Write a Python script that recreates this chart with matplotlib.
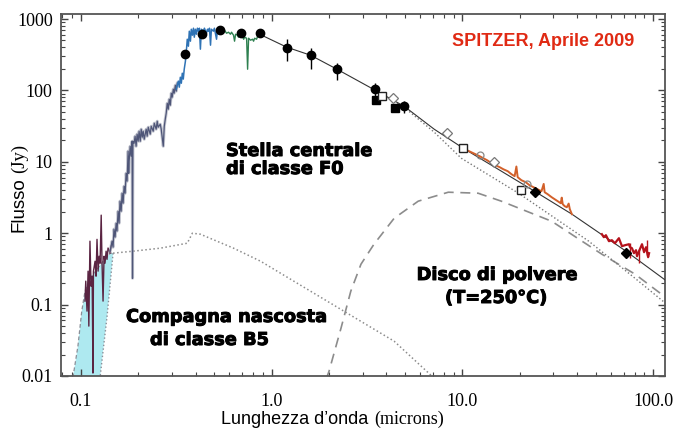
import numpy as np
import matplotlib.pyplot as plt
import matplotlib.patheffects as pe
from matplotlib.ticker import LogLocator, NullFormatter

W, H = 675, 430

# model curves (micron, Jy)
total_x = [0.865, 1.2, 1.6, 2.2, 3.48, 4.95, 7.12, 10.1, 16.0, 23.9, 37.5, 72.1, 118]
total_y = [612, 403, 311, 198, 101, 60, 28.6, 15.5, 7.4, 3.87, 1.85, 0.56, 0.213]

star_x = [3.48, 4.95, 7.12, 9.88, 19.7, 46.0, 80.4, 118]
star_y = [101, 58, 26, 11.2, 3.63, 0.773, 0.234, 0.101]

disk_x = [1.93, 2.0, 2.31, 2.6, 2.94, 3.44, 4.39, 5.87, 8.44, 12.1, 16.0, 29.4, 53.9, 80.4, 118]
disk_y = [0.009, 0.0117, 0.0467, 0.154, 0.368, 0.701, 1.62, 2.81, 3.75, 3.63, 2.81, 1.47, 0.508, 0.267, 0.123]

comp_x = [0.1474, 0.1879, 0.2606, 0.361, 0.384, 0.423, 0.631, 0.875, 1.306, 2.39, 4.39, 7.12]
comp_y = [0.525, 0.56, 0.617, 0.724, 1.0, 0.968, 0.617, 0.405, 0.213, 0.081, 0.0307, 0.0093]

cyan_left_x = [0.0908, 0.0964, 0.101, 0.105, 0.1115, 0.1214, 0.1306, 0.1422, 0.1474]
cyan_left_y = [0.0096, 0.0261, 0.081, 0.154, 0.234, 0.313, 0.405, 0.525, 0.525]
cyan_right_x = [0.1474, 0.1371, 0.126]
cyan_right_y = [0.525, 0.0688, 0.0096]

# spectra
uv1_x = [0.105, 0.106, 0.1076, 0.109, 0.110, 0.1115, 0.113, 0.1145, 0.1156, 0.1163, 0.1186, 0.120,
         0.1214, 0.123, 0.1245, 0.126, 0.1277, 0.129, 0.1306, 0.1322, 0.1337, 0.1355, 0.137, 0.1387,
         0.1422, 0.144, 0.1474]
uv1_y = [0.112, 0.213, 0.081, 0.294, 0.05, 0.773, 0.181, 0.25, 0.011, 0.294, 0.405, 0.25,
         0.82, 0.294, 0.476, 0.38, 1.79, 0.38, 0.112, 0.476, 0.38, 0.56, 0.43, 0.62,
         0.525, 0.66, 0.77]

uv2_x = [0.1422, 0.1456, 0.1474, 0.149, 0.151, 0.153, 0.1546, 0.1566, 0.1585, 0.1603, 0.1625, 0.1644,
         0.1664, 0.1684, 0.1705, 0.1725, 0.1746, 0.1767, 0.178, 0.179, 0.1812, 0.1832, 0.1855, 0.1864,
         0.1873, 0.19, 0.1923, 0.1946, 0.197, 0.1995, 0.2018, 0.2046, 0.207, 0.2096, 0.212, 0.2147,
         0.2198, 0.2225, 0.2254, 0.2309, 0.2336, 0.2393, 0.2424, 0.248, 0.2512, 0.254, 0.2606, 0.2636,
         0.2702, 0.2735, 0.2768, 0.280, 0.2835, 0.287, 0.2904, 0.2941, 0.2976, 0.301, 0.3051, 0.3083,
         0.3126, 0.316, 0.32]
uv2_y = [0.56, 0.773, 0.637, 1.14, 0.88, 1.38, 1.07, 2.03, 1.38, 2.81, 2.03, 3.63,
         2.63, 4.55, 3.63, 6.9, 5.35, 14.1, 6.9, 10.2, 16.5, 12.0, 19.4, 0.234,
         19.4, 18.2, 22.8, 16.5, 24.4, 19.4, 26.8, 19.4, 28.6, 22.1, 26.8, 20.7,
         28.6, 22.8, 30.5, 24.4, 31.5, 26.8, 34.7, 28.6, 37.0, 30.5, 33.6, 28.6,
         16.5, 31.5, 39.5, 48.0, 66.0, 54.5, 75.3, 62.0, 91.4, 80.3, 104, 91.4,
         118, 97.5, 126]

blue_x = [0.316, 0.324, 0.328, 0.332, 0.336, 0.34, 0.344, 0.348, 0.353, 0.357, 0.361, 0.366,
          0.37, 0.375, 0.379, 0.384, 0.389, 0.393, 0.398, 0.403, 0.408, 0.413, 0.418, 0.423,
          0.428, 0.439, 0.444, 0.455, 0.461, 0.466, 0.472, 0.478, 0.483, 0.495, 0.501, 0.514,
          0.52, 0.532, 0.539]
blue_y = [104, 135, 111, 153, 126, 174, 144, 198, 256, 354, 521, 416,
          675, 489, 719, 593, 743, 556, 719, 612, 743, 675, 743, 378,
          719, 675, 743, 632, 719, 675, 743, 430, 719, 675, 743, 521,
          719, 675, 697]

green_x = [0.539, 0.552, 0.566, 0.58, 0.594, 0.608, 0.616, 0.631, 0.639, 0.647, 0.662, 0.67,
           0.687, 0.704, 0.713, 0.721, 0.739, 0.748, 0.757, 0.775, 0.794, 0.804, 0.814, 0.834,
           0.844, 0.854]
green_y = [675, 653, 697, 632, 653, 612, 653, 593, 489, 612, 593, 556,
           612, 574, 521, 556, 538, 198, 538, 505, 521, 489, 538, 521,
           574, 612]

irs_x = [10.1, 10.6, 11.15, 11.7, 12.3, 12.9, 13.5, 14.2, 14.9, 15.7, 16.4, 17.3, 18.1, 18.8,
         19.2, 19.5, 20.4, 21.5, 22.5, 23.6, 24.8, 26.0, 26.7, 27.0, 28.0, 29.4, 30.5, 31.6,
         32.8, 33.2, 33.6, 34.4, 35.3, 36.1, 36.6, 37.5]
irs_y = [16.0, 14.5, 13.6, 12.8, 12.0, 11.2, 10.5, 9.55, 8.96, 8.4, 7.87, 7.38, 6.7, 6.29,
         8.6, 6.09, 5.52, 5.18, 4.7, 4.41, 4.13, 3.87, 4.9, 3.75, 3.52, 3.19, 2.99, 2.81,
         2.63, 3.15, 2.55, 2.39, 2.31, 2.6, 2.17, 1.85]

mips_x = [53.9, 55.2, 56.6, 58.7, 60.8, 63.1, 66.2, 68.7, 71.2, 74.8, 75.7, 77.5, 79.4, 81.4,
          82.4, 84.4, 87.5, 89.7, 91.9, 94.2, 95.3]
mips_y = [0.968, 0.879, 0.937, 0.773, 0.798, 0.724, 0.851, 0.658, 0.679, 0.701, 0.637, 0.617,
          0.525, 0.578, 0.476, 0.56, 0.701, 0.542, 0.637, 0.461, 0.525]
mips_err_x = [75.7, 84.4, 93.0]
mips_err_lo = [0.45, 0.38, 0.50]
mips_err_hi = [0.72, 0.60, 0.80]

# photometry
dot_x = [0.353, 0.433, 0.539, 0.687, 0.865, 1.2, 1.6, 2.2, 3.48, 4.95]
dot_y = [321, 612, 697, 632, 632, 390, 311, 198, 104, 60]
dot_lo = [321, 612, 697, 632, 632, 256, 198, 139, 70, 48]
dot_hi = [321, 612, 697, 632, 632, 521, 390, 240, 125, 70]
fsq_x = [3.53, 4.44]
fsq_y = [73, 56]
fdia_x = [23.9, 72.1]
fdia_y = [3.75, 0.525]
osq_x = [3.79, 10.1, 20.2]
osq_y = [83, 15.5, 4.0]
odia_x = [4.33, 8.34, 14.7]
odia_y = [78, 25, 9.9]
ocirc_x = [12.3, 21.7]
ocirc_y = [12.4, 4.86]

xticks = [0.1, 1, 10, 100]
xtick_labels = ['0.1', '1.0', '10.0', '100.0']
yticks = [0.01, 0.1, 1, 10, 100, 1000]
ytick_labels = ['0.01', '0.1', '1', '10', '100', '1000']

SERIF = 'Liberation Serif'
SANS = 'Liberation Sans'

fig = plt.figure(figsize=(W / 100, H / 100), dpi=100)
ax = fig.add_axes([61 / W, 1 - 376 / H, 604 / W, 362 / H])
ax.set_xscale('log')
ax.set_yscale('log')

# hidden companion region
ax.fill(cyan_left_x + cyan_right_x, cyan_left_y + cyan_right_y, color='#aee9f0', lw=0, zorder=1)
ax.plot(cyan_left_x, cyan_left_y, color='#8a8f98', lw=0.9, ls=(0, (3, 2)), zorder=2)
ax.plot(cyan_right_x, cyan_right_y, color='#8a8f98', lw=1.0, ls=':', zorder=2)

ax.plot(comp_x, comp_y, color='#8c8c8c', lw=1.1, ls=':', zorder=2)
ax.plot(disk_x, disk_y, color='#8c8c8c', lw=1.2, ls=(0, (6, 4)), zorder=2)
ax.plot(star_x, star_y, color='#777777', lw=1.0, ls=':', zorder=2)
ax.plot(total_x, total_y, color='#333333', lw=0.8, zorder=3)

ax.plot(uv1_x, uv1_y, color='#5a2442', lw=1.0, zorder=4)
ax.plot(uv2_x, uv2_y, color='#a0a4b4', lw=2.2, alpha=0.6, zorder=4)
ax.plot(uv2_x, uv2_y, color='#4f5678', lw=0.9, zorder=4)
ax.plot(blue_x, blue_y, color='#2f73b5', lw=1.1, zorder=4)
ax.plot(green_x, green_y, color='#2e8050', lw=1.0, zorder=4)
ax.plot(irs_x, irs_y, color='#d2602a', lw=1.4, zorder=4)
ax.plot(mips_x, mips_y, color='#b5121b', lw=1.6, zorder=4)
ax.vlines(mips_err_x, mips_err_lo, mips_err_hi, color='#b5121b', lw=1.0, zorder=4)

dot_err = [np.array(dot_y) - np.array(dot_lo), np.array(dot_hi) - np.array(dot_y)]
ax.errorbar(dot_x, dot_y, yerr=dot_err, fmt='o', color='black', ms=6, elinewidth=1.0,
            capsize=0, zorder=6)
ax.plot(fsq_x, fsq_y, 's', color='black', ms=5.5, zorder=6)
ax.plot(fdia_x, fdia_y, 'D', color='black', ms=5, zorder=6)
ax.plot(osq_x, osq_y, 's', mfc='white', mec='#222222', mew=1.0, ms=5.5, zorder=6)
ax.plot(odia_x, odia_y, 'D', mfc='white', mec='#777777', mew=0.9, ms=5, zorder=6)
ax.plot(ocirc_x, ocirc_y, 'o', mfc='none', mec='#888888', mew=0.9, ms=5, zorder=6)

ax.set_xlim(0.0786, 115.5)
ax.set_ylim(0.01, 1175)
ax.set_xticks(xticks)
ax.set_xticklabels(xtick_labels)
ax.set_yticks(yticks)
ax.set_yticklabels(ytick_labels)
ax.xaxis.set_minor_locator(LogLocator(base=10, subs=np.arange(2, 10)))
ax.yaxis.set_minor_locator(LogLocator(base=10, subs=np.arange(2, 10)))
ax.xaxis.set_minor_formatter(NullFormatter())
ax.yaxis.set_minor_formatter(NullFormatter())
ax.tick_params(which='both', direction='in', top=True, right=True, color='#444444')
ax.tick_params(which='major', length=5, width=1.0)
ax.tick_params(which='minor', length=3, width=0.8)
ax.tick_params(axis='x', pad=12)
ax.tick_params(axis='y', pad=6)
for lab in ax.get_xticklabels() + ax.get_yticklabels():
    lab.set_fontfamily(SERIF)
    lab.set_fontsize(13)
for sp in ax.spines.values():
    sp.set_color('#555555')
    sp.set_linewidth(1.3)


def fpos(x, y):
    return x / W, 1 - y / H


heavy = dict(fontfamily='DejaVu Sans', fontweight='bold', fontsize=12.8, color='black',
             path_effects=[pe.withStroke(linewidth=0.7, foreground='black')])
fig.text(*fpos(226, 156), 'Stella centrale', ha='left', va='baseline', **heavy)
fig.text(*fpos(226, 174), 'di classe F0', ha='left', va='baseline', **heavy)
fig.text(*fpos(126, 322), 'Compagna nascosta', ha='left', va='baseline', **heavy)
fig.text(*fpos(150, 345), 'di classe B5', ha='left', va='baseline', **heavy)
fig.text(*fpos(497, 280), 'Disco di polvere', ha='center', va='baseline', **heavy)
fig.text(*fpos(496, 303), '(T=250°C)', ha='center', va='baseline', **heavy)

fig.text(*fpos(543, 46), 'SPITZER, Aprile 2009', ha='center', va='baseline', color='#e02a14',
         fontfamily=SANS, fontweight='bold', fontsize=13)

# axis titles: sans words + serif units, as in the source
fig.text(*fpos(368, 424), "Lunghezza d\u2019onda", ha='right', va='baseline',
         fontfamily=SANS, fontsize=13)
fig.text(*fpos(374, 424), '(microns)', ha='left', va='baseline', fontfamily=SERIF, fontsize=13)
fig.text(*fpos(19, 177), 'Flusso', ha='center', va='top', rotation=90,
         fontfamily=SANS, fontsize=13.5)
fig.text(*fpos(19, 173), '(Jy)', ha='center', va='bottom', rotation=90,
         fontfamily=SERIF, fontsize=13.5)

fig.savefig('out.png', dpi=100)
